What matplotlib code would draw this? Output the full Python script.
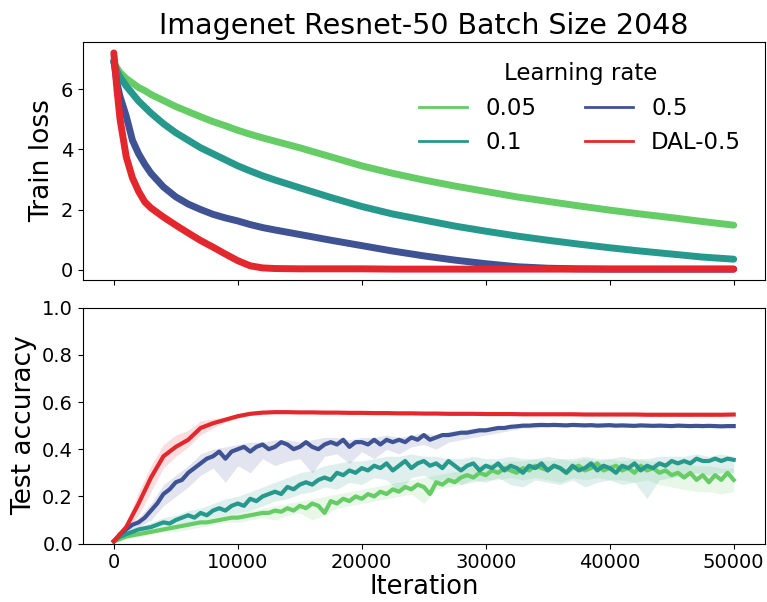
import numpy as np
import matplotlib
matplotlib.use("Agg")
from matplotlib import pyplot as plt
from matplotlib.lines import Line2D

###############################################################################
# train loss, read off at these iterations
loss_iters = [0, 250, 500, 1000, 1500, 2000, 2500, 3000, 4000, 5000, 6000, 7000,
              8000, 9000, 10000, 11000, 12000, 13000, 15000, 17500, 20000, 22500,
              25000, 27500, 30000, 32500, 35000, 37500, 40000, 42500, 45000,
              47500, 50000]
loss_005 = [6.9, 6.7, 6.55, 6.35, 6.2, 6.05, 5.95, 5.82, 5.62, 5.42, 5.25, 5.08,
            4.92, 4.78, 4.63, 4.5, 4.38, 4.27, 4.05, 3.75, 3.45, 3.2,
            2.98, 2.78, 2.6, 2.42, 2.27, 2.12, 1.98, 1.85, 1.73, 1.6, 1.48]
loss_01 = [6.9, 6.6, 6.4, 6.1, 5.85, 5.6, 5.4, 5.2, 4.85, 4.55, 4.3, 4.05,
           3.85, 3.65, 3.45, 3.28, 3.12, 2.98, 2.72, 2.4, 2.1, 1.85,
           1.65, 1.45, 1.28, 1.12, 0.98, 0.85, 0.73, 0.62, 0.52, 0.42, 0.35]
loss_05 = [6.95, 6.2, 5.75, 5.1, 4.3, 3.85, 3.5, 3.2, 2.75, 2.42, 2.18, 2.0,
           1.84, 1.72, 1.62, 1.5, 1.4, 1.32, 1.17, 0.98, 0.8, 0.62,
           0.46, 0.32, 0.2, 0.1, 0.05, 0.03, 0.02, 0.02, 0.02, 0.02, 0.02]
loss_dal = [7.2, 6.0, 5.0, 3.75, 3.05, 2.6, 2.25, 2.05, 1.75, 1.48, 1.22, 0.97,
            0.75, 0.52, 0.3, 0.13, 0.06, 0.04, 0.03, 0.03, 0.03, 0.02,
            0.02, 0.02, 0.02, 0.02, 0.02, 0.02, 0.02, 0.02, 0.02, 0.02, 0.02]

# test accuracy, every 500 iterations (mean curves)
acc_005 = [0.01, 0.02, 0.03, 0.035, 0.04, 0.045, 0.05, 0.055, 0.06, 0.065,
           0.07, 0.075, 0.08, 0.085, 0.09, 0.09, 0.095, 0.10, 0.105, 0.11,
           0.11, 0.115, 0.12, 0.125, 0.13, 0.13, 0.14, 0.135, 0.15, 0.14,
           0.16, 0.15, 0.17, 0.16, 0.13, 0.18, 0.17, 0.19, 0.18, 0.20,
           0.19, 0.21, 0.20, 0.22, 0.21, 0.23, 0.22, 0.24, 0.23, 0.25,
           0.24, 0.21, 0.26, 0.25, 0.27, 0.26, 0.28, 0.29, 0.28, 0.30,
           0.29, 0.31, 0.30, 0.32, 0.31, 0.30, 0.32, 0.31, 0.33, 0.32,
           0.31, 0.33, 0.32, 0.30, 0.32, 0.33, 0.31, 0.32, 0.34, 0.31,
           0.32, 0.33, 0.31, 0.32, 0.30, 0.33, 0.31, 0.32, 0.30, 0.31,
           0.29, 0.30, 0.28, 0.30, 0.27, 0.29, 0.26, 0.29, 0.27, 0.30, 0.27]
acc_01 = [0.01, 0.03, 0.04, 0.05, 0.06, 0.065, 0.07, 0.08, 0.09, 0.085,
          0.10, 0.11, 0.12, 0.11, 0.13, 0.12, 0.14, 0.15, 0.14, 0.16,
          0.17, 0.16, 0.19, 0.18, 0.20, 0.21, 0.22, 0.21, 0.24, 0.23,
          0.25, 0.26, 0.25, 0.27, 0.28, 0.27, 0.30, 0.29, 0.31, 0.30,
          0.32, 0.31, 0.33, 0.32, 0.34, 0.31, 0.33, 0.35, 0.32, 0.34,
          0.35, 0.33, 0.34, 0.32, 0.35, 0.33, 0.31, 0.33, 0.34, 0.31,
          0.33, 0.32, 0.34, 0.31, 0.33, 0.32, 0.30, 0.33, 0.32, 0.34,
          0.31, 0.33, 0.32, 0.30, 0.33, 0.31, 0.32, 0.34, 0.31, 0.33,
          0.32, 0.30, 0.33, 0.32, 0.34, 0.31, 0.33, 0.32, 0.34, 0.33,
          0.35, 0.34, 0.35, 0.34, 0.36, 0.35, 0.35, 0.36, 0.35, 0.36, 0.355]
acc_05 = [0.01, 0.04, 0.06, 0.08, 0.09, 0.11, 0.14, 0.17, 0.21, 0.23,
          0.26, 0.27, 0.30, 0.32, 0.34, 0.36, 0.37, 0.39, 0.36, 0.39,
          0.40, 0.41, 0.39, 0.41, 0.42, 0.40, 0.41, 0.43, 0.42, 0.40,
          0.41, 0.43, 0.41, 0.40, 0.42, 0.43, 0.42, 0.44, 0.41, 0.43,
          0.43, 0.42, 0.44, 0.42, 0.44, 0.43, 0.44, 0.43, 0.45, 0.44,
          0.46, 0.44, 0.45, 0.46, 0.46, 0.465, 0.47, 0.47, 0.475, 0.48,
          0.48, 0.485, 0.49, 0.49, 0.495, 0.497, 0.50, 0.50, 0.502, 0.503,
          0.502, 0.503, 0.502, 0.501, 0.503, 0.502, 0.501, 0.502, 0.500, 0.501,
          0.502, 0.500, 0.501, 0.500, 0.499, 0.501, 0.500, 0.499, 0.500, 0.499,
          0.498, 0.500, 0.499, 0.498, 0.499, 0.498, 0.499, 0.498, 0.497, 0.498, 0.498]

# every 1000 iterations: DAL mean and the run-to-run bands
acc_dal = [0.01, 0.07, 0.17, 0.28, 0.37, 0.41, 0.44, 0.49, 0.51, 0.525,
           0.54, 0.55, 0.555, 0.557, 0.557, 0.556, 0.556, 0.555, 0.555, 0.554,
           0.554, 0.553, 0.553, 0.552, 0.552, 0.551, 0.551, 0.550, 0.550, 0.550,
           0.549, 0.549, 0.549, 0.548, 0.548, 0.548, 0.548, 0.548, 0.547, 0.547,
           0.547, 0.547, 0.547, 0.546, 0.546, 0.546, 0.546, 0.546, 0.546, 0.546, 0.547]
lo_dal = [0.00, 0.05, 0.12, 0.22, 0.32, 0.37, 0.41, 0.46, 0.49, 0.515,
          0.53, 0.545, 0.55, 0.553, 0.553, 0.552, 0.552, 0.551, 0.551, 0.550,
          0.550, 0.549, 0.549, 0.548, 0.548, 0.547, 0.547, 0.546, 0.546, 0.546,
          0.545, 0.545, 0.545, 0.544, 0.544, 0.544, 0.544, 0.544, 0.543, 0.543,
          0.543, 0.543, 0.543, 0.542, 0.542, 0.542, 0.542, 0.542, 0.542, 0.542, 0.543]
hi_dal = [0.02, 0.09, 0.22, 0.33, 0.42, 0.46, 0.48, 0.52, 0.53, 0.535,
          0.55, 0.556, 0.56, 0.561, 0.561, 0.560, 0.560, 0.559, 0.559, 0.558,
          0.558, 0.557, 0.557, 0.556, 0.556, 0.555, 0.555, 0.554, 0.554, 0.554,
          0.553, 0.553, 0.553, 0.552, 0.552, 0.552, 0.552, 0.552, 0.551, 0.551,
          0.551, 0.551, 0.551, 0.550, 0.550, 0.550, 0.550, 0.550, 0.550, 0.550, 0.551]
lo_05 = [0.00, 0.04, 0.07, 0.10, 0.16, 0.20, 0.24, 0.29, 0.32, 0.26,
         0.33, 0.30, 0.36, 0.33, 0.35, 0.36, 0.30, 0.37, 0.38, 0.34,
         0.39, 0.36, 0.40, 0.38, 0.41, 0.42, 0.40, 0.43, 0.44, 0.45,
         0.46, 0.47, 0.48, 0.49, 0.49, 0.495, 0.495, 0.495, 0.494, 0.494,
         0.494, 0.493, 0.493, 0.493, 0.492, 0.492, 0.492, 0.491, 0.491, 0.491, 0.491]
hi_05 = [0.02, 0.07, 0.11, 0.17, 0.25, 0.29, 0.33, 0.38, 0.40, 0.41,
         0.42, 0.43, 0.43, 0.44, 0.44, 0.43, 0.44, 0.45, 0.45, 0.44,
         0.45, 0.45, 0.46, 0.45, 0.46, 0.47, 0.46, 0.475, 0.48, 0.49,
         0.49, 0.495, 0.50, 0.505, 0.507, 0.508, 0.508, 0.508, 0.507, 0.507,
         0.507, 0.506, 0.506, 0.506, 0.505, 0.505, 0.505, 0.504, 0.504, 0.504, 0.504]
lo_01 = [0.00, 0.03, 0.05, 0.06, 0.07, 0.08, 0.09, 0.10, 0.11, 0.12,
         0.13, 0.14, 0.16, 0.18, 0.19, 0.21, 0.22, 0.24, 0.23, 0.26,
         0.25, 0.28, 0.27, 0.22, 0.28, 0.29, 0.26, 0.28, 0.25, 0.27,
         0.26, 0.28, 0.25, 0.24, 0.27, 0.26, 0.25, 0.27, 0.24, 0.26,
         0.27, 0.25, 0.26, 0.19, 0.27, 0.28, 0.29, 0.30, 0.29, 0.30, 0.30]
hi_01 = [0.02, 0.05, 0.07, 0.09, 0.11, 0.12, 0.14, 0.15, 0.17, 0.19,
         0.20, 0.22, 0.24, 0.26, 0.28, 0.30, 0.31, 0.33, 0.34, 0.35,
         0.35, 0.36, 0.37, 0.37, 0.38, 0.37, 0.37, 0.36, 0.36, 0.37,
         0.36, 0.36, 0.37, 0.36, 0.36, 0.37, 0.36, 0.36, 0.37, 0.36,
         0.36, 0.37, 0.36, 0.36, 0.37, 0.37, 0.37, 0.38, 0.37, 0.38, 0.37]
lo_005 = [0.00, 0.02, 0.03, 0.04, 0.05, 0.05, 0.06, 0.07, 0.08, 0.09,
          0.09, 0.10, 0.11, 0.10, 0.12, 0.13, 0.10, 0.12, 0.15, 0.16,
          0.17, 0.18, 0.19, 0.20, 0.21, 0.17, 0.23, 0.24, 0.25, 0.26,
          0.27, 0.27, 0.28, 0.27, 0.28, 0.27, 0.26, 0.28, 0.27, 0.28,
          0.27, 0.27, 0.26, 0.27, 0.25, 0.24, 0.23, 0.22, 0.22, 0.21, 0.22]
hi_005 = [0.02, 0.04, 0.05, 0.06, 0.07, 0.08, 0.09, 0.10, 0.11, 0.12,
          0.13, 0.14, 0.15, 0.16, 0.17, 0.18, 0.19, 0.20, 0.21, 0.22,
          0.23, 0.24, 0.25, 0.26, 0.27, 0.28, 0.29, 0.30, 0.31, 0.33,
          0.34, 0.34, 0.35, 0.35, 0.36, 0.35, 0.36, 0.35, 0.36, 0.35,
          0.36, 0.35, 0.36, 0.35, 0.35, 0.34, 0.34, 0.33, 0.33, 0.32, 0.32]

labels = ['0.05', '0.1', '0.5', 'DAL-0.5']
colors = ['#66cc66', '#27998c', '#3f5394', '#e3282d']

###############################################################################
it_coarse = np.linspace(0, 50000, len(acc_dal))

fig = plt.figure(figsize=(7.67, 6.02), dpi=100)
ax1 = fig.add_axes([0.108, 0.535, 0.889, 0.395])
ax2 = fig.add_axes([0.108, 0.097, 0.889, 0.392], sharex=ax1)

for y, c in zip([loss_005, loss_01, loss_05, loss_dal], colors):
    ax1.plot(loss_iters, y, color=c, linewidth=5, solid_capstyle='round')

ax1.set_ylabel('Train loss', fontsize=19)
ax1.set_title('Imagenet Resnet-50 Batch Size 2048', fontsize=20.5)
ax1.tick_params(labelsize=14, labelbottom=False)
ax1.set_yticks([0, 2, 4, 6])

handles = [Line2D([], [], color=c, linewidth=2) for c in colors]
ax1.legend(handles, labels, title='Learning rate', ncol=2, frameon=False,
           loc='upper right', bbox_to_anchor=(0.979, 0.954),
           fontsize=16.5, title_fontsize=16.5, borderaxespad=0,
           columnspacing=2.1, handlelength=2.1)

bands = [(lo_005, hi_005), (lo_01, hi_01), (lo_05, hi_05), (lo_dal, hi_dal)]
means = [acc_005, acc_01, acc_05, acc_dal]
for (lo, hi), m, c in zip(bands, means, colors):
    ax2.fill_between(it_coarse, lo, hi, color=c, alpha=0.15, linewidth=0)
    ax2.plot(np.linspace(0, 50000, len(m)), m, color=c, linewidth=3)

ax2.set_ylim(0, 1.0)
ax2.set_ylabel('Test accuracy', fontsize=19)
ax2.set_xlabel('Iteration', fontsize=18.5, labelpad=1)
ax2.tick_params(labelsize=14)
ax2.set_xticks([0, 10000, 20000, 30000, 40000, 50000])

fig.savefig('out.png', dpi=100)
